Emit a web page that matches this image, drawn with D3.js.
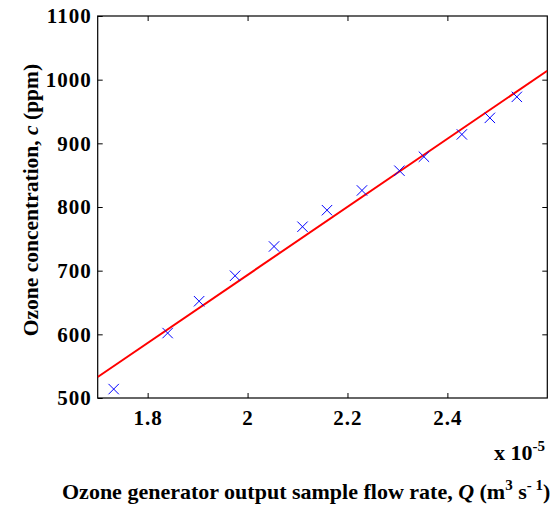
<!DOCTYPE html>
<html>
<head>
<meta charset="utf-8">
<script src="https://cdn.jsdelivr.net/npm/d3@7"></script>
<style>
  html, body { margin: 0; padding: 0; background: #fff; }
  #chart { width: 556px; height: 506px; }
  text { font-family: "Liberation Serif", "Times New Roman", Times, serif; font-weight: bold; fill: #000; }
</style>
</head>
<body>
<div id="chart"></div>
<script>
// measured flow rate (x 1e-5 m^3/s) and ozone concentration (ppm)
const flowRate = [1.732, 1.840, 1.903, 1.975, 2.053, 2.110, 2.159, 2.229, 2.304, 2.353, 2.429, 2.485, 2.539];
const ozonePpm = [514, 602, 652, 692, 738, 769, 795, 826, 857, 879, 914, 940, 973];

// linear fit, end points at the axis limits
const fitFlow = [1.7, 2.6];
const fitPpm = [533, 1014];

const xTicks = [1.8, 2.0, 2.2, 2.4];
const yTicks = [500, 600, 700, 800, 900, 1000, 1100];

function renderOzoneChart(containerId) {
  const container = d3.select(`#${containerId}`);
  container.selectAll("*").remove();

  const width = 556;
  const height = 506;
  const margin = { top: 16, right: 8.7, bottom: 108, left: 97.7 };
  const innerWidth = width - margin.left - margin.right;
  const innerHeight = height - margin.top - margin.bottom;

  const svg = container.append("svg")
    .attr("width", width)
    .attr("height", height);

  const g = svg.append("g")
    .attr("transform", `translate(${margin.left},${margin.top})`);

  const x = d3.scaleLinear().domain([1.7, 2.6]).range([0, innerWidth]);
  const y = d3.scaleLinear().domain([500, 1100]).range([innerHeight, 0]);

  svg.append("defs").append("clipPath")
    .attr("id", "plot-clip")
    .append("rect")
    .attr("width", innerWidth)
    .attr("height", innerHeight);

  // axes, ticks pointing inward like matlab
  const tick = 5;
  const fmt = d => d3.format("~g")(d);

  const bottom = g.append("g")
    .attr("transform", `translate(0,${innerHeight})`)
    .call(d3.axisBottom(x).tickValues(xTicks).tickFormat(fmt)
      .tickSizeInner(-tick).tickSizeOuter(0).tickPadding(12));
  const left = g.append("g")
    .call(d3.axisLeft(y).tickValues(yTicks).tickFormat(fmt)
      .tickSizeInner(-tick).tickSizeOuter(0).tickPadding(6));
  const top = g.append("g")
    .call(d3.axisTop(x).tickValues(xTicks).tickFormat("")
      .tickSizeInner(-tick).tickSizeOuter(0));
  const right = g.append("g")
    .attr("transform", `translate(${innerWidth},0)`)
    .call(d3.axisRight(y).tickValues(yTicks.slice(1, -1)).tickFormat("")
      .tickSizeInner(-tick).tickSizeOuter(0));

  [bottom, left, top, right].forEach(a => {
    a.attr("font-family", null);
    a.select(".domain").remove();
    a.selectAll("line").attr("stroke", "#000").attr("stroke-width", 1);
    a.selectAll("text")
      .style("font-family", "'Liberation Serif', 'Times New Roman', Times, serif")
      .style("font-weight", "bold")
      .style("font-size", "21px")
      .style("letter-spacing", "1px")
      .attr("fill", "#000");
  });

  g.append("rect")
    .attr("width", innerWidth)
    .attr("height", innerHeight)
    .attr("fill", "none")
    .attr("stroke", "#000")
    .attr("stroke-width", 1.2);

  // fit line
  g.append("path")
    .datum(fitFlow.map((f, i) => [f, fitPpm[i]]))
    .attr("clip-path", "url(#plot-clip)")
    .attr("fill", "none")
    .attr("stroke", "#ff0000")
    .attr("stroke-width", 2)
    .attr("d", d3.line().x(d => x(d[0])).y(d => y(d[1])));

  // data crosses
  const s = 5.2;
  g.selectAll("path.pt")
    .data(flowRate.map((f, i) => [f, ozonePpm[i]]))
    .join("path")
    .attr("class", "pt")
    .attr("fill", "none")
    .attr("stroke", "#0000ff")
    .attr("stroke-width", 1)
    .attr("d", d => {
      const cx = x(d[0]), cy = y(d[1]);
      return `M${cx - s},${cy - s}L${cx + s},${cy + s}M${cx - s},${cy + s}L${cx + s},${cy - s}`;
    });

  // exponent label
  const expo = svg.append("text")
    .attr("x", 545)
    .attr("y", 460)
    .attr("text-anchor", "end")
    .style("font-size", "22px");
  expo.append("tspan").text("x 10");
  expo.append("tspan").attr("dy", -9).style("font-size", "15px").text("-5");

  // x title
  const xt = svg.append("text")
    .attr("x", 62)
    .attr("y", 499)
    .style("font-size", "22px");
  xt.append("tspan").text("Ozone generator output sample flow rate, ");
  xt.append("tspan").style("font-style", "italic").text("Q");
  xt.append("tspan").text(" (m");
  xt.append("tspan").attr("dy", -9).style("font-size", "15px").text("3");
  xt.append("tspan").attr("dy", 9).text(" s");
  xt.append("tspan").attr("dy", -9).style("font-size", "15px").text("- 1");
  xt.append("tspan").attr("dy", 9).text(")");

  // y title
  const yt = svg.append("text")
    .attr("transform", "translate(38,200) rotate(-90)")
    .attr("text-anchor", "middle")
    .style("font-size", "21.5px");
  yt.append("tspan").text("Ozone concentration, ");
  yt.append("tspan").style("font-style", "italic").text("c");
  yt.append("tspan").text(" (ppm)");
}

document.addEventListener("DOMContentLoaded", () => {
  renderOzoneChart("chart");
});
</script>
</body>
</html>
